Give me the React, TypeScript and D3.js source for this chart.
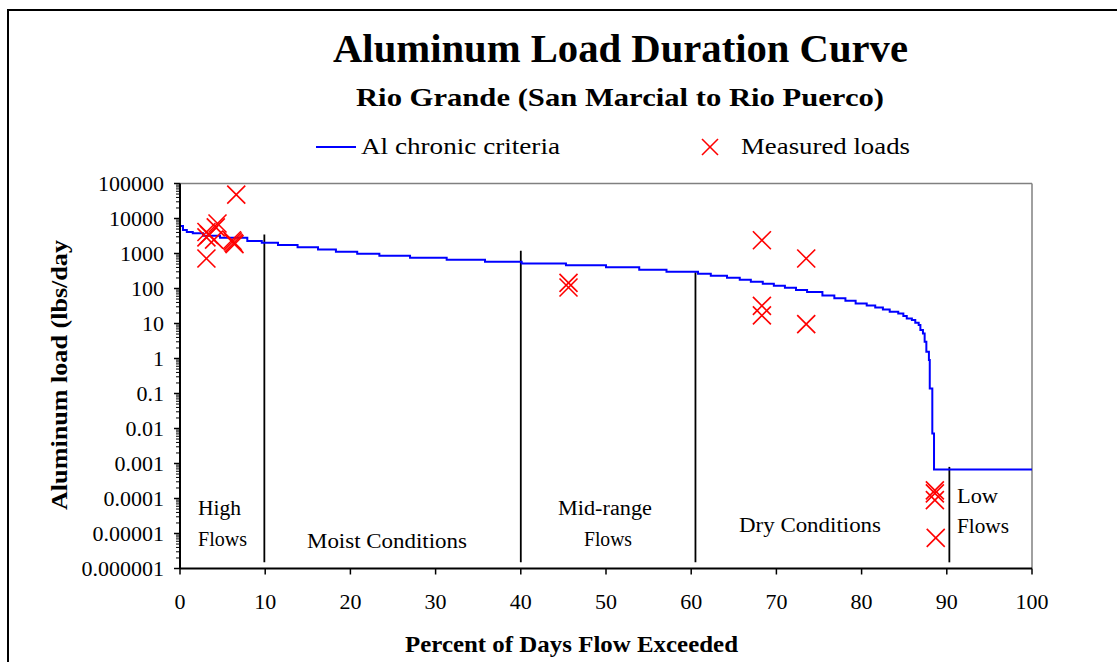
import React from "react";
import * as d3 from "d3";

// Al chronic criteria load duration curve (percent exceeded, lbs/day), step curve
const curveX = [0, 0.35, 0.8, 1.5, 2.7, 4.7, 7.9, 9.6, 11.5, 13.8, 16.2, 18.3, 20.8, 23.4, 27.0, 31.3, 35.8, 40.1, 45.3, 50.0, 53.9, 57.1, 60.8, 62.3, 64.2, 65.7, 67.0, 68.4, 69.7, 71.0, 72.3, 73.6, 75.4, 76.8, 78.1, 79.3, 80.6, 81.6, 82.5, 83.3, 84.3, 84.9, 85.3, 85.9, 86.3, 86.7, 86.9, 87.2, 87.4, 87.6, 87.9, 88.0, 88.3, 88.5, 100];
const curveY = [6100, 4680, 4100, 3770, 3210, 2820, 2270, 2030, 1740, 1500, 1310, 1120, 985, 862, 755, 662, 580, 522, 458, 402, 343, 301, 264, 231, 202, 177, 155, 136, 119, 105, 90, 79, 63.5, 53, 44.6, 37, 32.9, 28.8, 25.3, 21.6, 19.4, 16.3, 14, 12.5, 10.5, 9, 6.5, 5.2, 3.0, 1.55, 0.9, 0.14, 0.0072, 0.00067, 0.00067];

// Measured loads
const measuredX = [3.1, 3.1, 3.1, 3.4, 4.0, 4.2, 4.4, 6.1, 6.2, 6.3, 6.4, 6.6, 45.6, 45.6, 68.3, 68.3, 68.3, 73.5, 73.5, 88.6, 88.6, 88.6, 88.7];
const measuredY = [720, 4100, 2900, 3400, 2500, 5600, 7200, 2400, 2200, 2000, 1850, 48000, 145, 107, 2400, 32, 17, 720, 9.6, 0.00017, 0.00014, 0.00009, 0.0000075];

// Flow regime dividers
const dividerX = [9.9, 40, 60.5, 90.3];
const dividerTop = [3500, 1200, 290, 0.0008];
const dividerBottom = 0.0000015;

// Axis ticks
const xTicks = [0, 10, 20, 30, 40, 50, 60, 70, 80, 90, 100];
const yTicks = [1e-6, 1e-5, 1e-4, 1e-3, 1e-2, 1e-1, 1, 10, 100, 1000, 10000, 100000];
const yTickLabels = ["0.000001", "0.00001", "0.0001", "0.001", "0.01", "0.1", "1", "10", "100", "1000", "10000", "100000"];

const FONT = '"Liberation Serif", "Times New Roman", serif';

export default function App() {
  const W = 1117, H = 662;
  const x = d3.scaleLinear().domain([0, 100]).range([180, 1032]);
  const y = d3.scaleLog().domain([1e-6, 1e5]).range([568.5, 183.5]);

  const pts: [number, number][] = curveX.map((v, i) => [v, curveY[i]]);
  const line = d3.line<[number, number]>().x(d => x(d[0])).y(d => y(d[1])).curve(d3.curveStepAfter);

  const minor: number[] = [];
  for (let e = -6; e < 5; e++) {
    for (let m = 2; m <= 9; m++) minor.push(m * Math.pow(10, e));
  }

  const cross = (cx: number, cy: number, s: number, key: any, sw = 1.6) => (
    <g key={key} stroke="#ff0000" strokeWidth={sw}>
      <line x1={cx - s} y1={cy - s} x2={cx + s} y2={cy + s} />
      <line x1={cx - s} y1={cy + s} x2={cx + s} y2={cy - s} />
    </g>
  );

  const x0 = x(0), x1 = x(100), yTop = y(1e5), yBot = y(1e-6);
  const LA = "spacingAndGlyphs";

  return (
    <svg width={W} height={H} style={{ position: "absolute", left: 0, top: 0, background: "#fff" }} fontFamily={FONT}>
      <rect x={0} y={0} width={W} height={H} fill="#fff" />
      <rect x={8} y={10} width={1300} height={900} fill="none" stroke="#000" strokeWidth={2} />

      {/* titles */}
      <text x={333} y={62} fontSize={39} fontWeight="bold" textLength={575} lengthAdjust={LA}>Aluminum Load Duration Curve</text>
      <text x={356} y={106} fontSize={26} fontWeight="bold" textLength={528} lengthAdjust={LA}>Rio Grande (San Marcial to Rio Puerco)</text>

      {/* legend */}
      <line x1={316} x2={356} y1={147} y2={147} stroke="#0000ff" strokeWidth={2} />
      <text x={361} y={154} fontSize={23} textLength={199} lengthAdjust={LA}>Al chronic criteria</text>
      {cross(710, 147, 8, "leg")}
      <text x={741} y={154} fontSize={23} textLength={169} lengthAdjust={LA}>Measured loads</text>

      {/* frame */}
      <line x1={x0} x2={x1} y1={yTop} y2={yTop} stroke="#808080" strokeWidth={1.5} />
      <line x1={x1} x2={x1} y1={yTop} y2={yBot} stroke="#808080" strokeWidth={1.5} />

      {/* dividers */}
      {dividerX.map((d, i) => (
        <line key={"d" + i} x1={x(d)} x2={x(d)} y1={y(dividerTop[i])} y2={y(dividerBottom)} stroke="#000" strokeWidth={1.8} />
      ))}

      {/* curve */}
      <path d={line(pts) || ""} fill="none" stroke="#0000ff" strokeWidth={2} />

      {/* measured */}
      {measuredX.map((v, i) => cross(x(v), y(measuredY[i]), 9, "m" + i))}

      {/* region labels */}
      <g fontSize={20}>
        <text x={198} y={515} textLength={43} lengthAdjust={LA}>High</text>
        <text x={198} y={546} textLength={49} lengthAdjust={LA}>Flows</text>
        <text x={307} y={548} textLength={160} lengthAdjust={LA}>Moist Conditions</text>
        <text x={558} y={515} textLength={94} lengthAdjust={LA}>Mid-range</text>
        <text x={584} y={546} textLength={48} lengthAdjust={LA}>Flows</text>
        <text x={739} y={532} textLength={142} lengthAdjust={LA}>Dry Conditions</text>
        <text x={957} y={503} textLength={41} lengthAdjust={LA}>Low</text>
        <text x={957} y={533} textLength={52} lengthAdjust={LA}>Flows</text>
      </g>

      {/* axes */}
      <line x1={x0} x2={x0} y1={yTop} y2={yBot} stroke="#000" strokeWidth={2} />
      <line x1={x0} x2={x1} y1={yBot} y2={yBot} stroke="#000" strokeWidth={2} />
      {minor.map((m, i) => (
        <line key={"mn" + i} x1={x0 - 4} x2={x0} y1={y(m)} y2={y(m)} stroke="#000" strokeWidth={1} />
      ))}
      {yTicks.map((t, i) => (
        <g key={"yt" + i}>
          <line x1={x0 - 6} x2={x0} y1={y(t)} y2={y(t)} stroke="#000" strokeWidth={1.5} />
          <text x={164} y={y(t) + 7} textAnchor="end" fontSize={22}>{yTickLabels[i]}</text>
        </g>
      ))}
      {xTicks.map((t, i) => (
        <g key={"xt" + i}>
          <line x1={x(t)} x2={x(t)} y1={yBot} y2={yBot + 6} stroke="#000" strokeWidth={1.5} />
          <text x={x(t)} y={609} textAnchor="middle" fontSize={22}>{t}</text>
        </g>
      ))}

      <text x={405} y={652} fontSize={23} fontWeight="bold" textLength={333} lengthAdjust={LA}>Percent of Days Flow Exceeded</text>
      <text transform="translate(67,510) rotate(-90)" fontSize={23} fontWeight="bold" textLength={270} lengthAdjust={LA}>Aluminum load (lbs/day</text>
    </svg>
  );
}
